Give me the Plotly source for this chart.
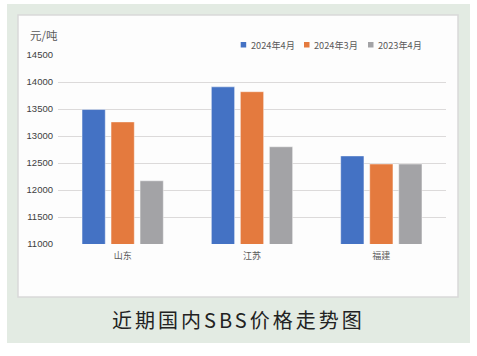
import plotly.graph_objects as go

categories = ["山东", "江苏", "福建"]
series_names = ["2024年4月", "2024年3月", "2023年4月"]
apr_2024 = [13490, 13910, 12630]
mar_2024 = [13260, 13820, 12480]
apr_2023 = [12170, 12800, 12480]
series_values = [apr_2024, mar_2024, apr_2023]
colors = ["#4472c4", "#e47a3e", "#a3a3a6"]
y_ticks = [11000, 11500, 12000, 12500, 13000, 13500, 14000, 14500]
y_unit = "元/吨"
chart_title = "近期国内SBS价格走势图"

W, H = 477, 356
L, R, T, B = 58, 31, 55, 112
PW, PH = W - L - R, H - T - B


def px(x):
    return (x - L) / PW


def py(y):
    return (H - B - y) / PH


fig = go.Figure()
for name, vals, col in zip(series_names, series_values, colors):
    fig.add_trace(go.Bar(
        x=categories, y=vals, name=name,
        marker=dict(color=col, line=dict(color="rgba(255,255,255,0.7)", width=0.6)),
        showlegend=False,
    ))

shapes = [
    dict(type="rect", xref="paper", yref="paper", x0=px(7), x1=px(470), y0=py(4), y1=py(343),
         fillcolor="#e3ebe3", line=dict(width=0), layer="below"),
    dict(type="rect", xref="paper", yref="paper", x0=px(18), x1=px(458), y0=py(15), y1=py(297),
         fillcolor="#fdfdfd", line=dict(color="#d9d9d9", width=1.5), layer="below"),
]
annotations = [
    dict(text=y_unit, xref="paper", yref="paper", x=px(28), y=py(35), xanchor="left", yanchor="middle",
         showarrow=False, font=dict(size=11.5, color="#595959", family="Noto Sans CJK SC")),
    dict(text='<span style="letter-spacing:3px">' + chart_title + '</span>', xref="paper", yref="paper",
         x=px(238), y=py(319), xanchor="center", yanchor="middle", showarrow=False,
         font=dict(size=20, color="#222222", family="Noto Sans CJK SC")),
]
legend_sq_x = [240.7, 304, 368]
for name, col, sx in zip(series_names, colors, legend_sq_x):
    shapes.append(dict(type="rect", xref="paper", yref="paper", x0=px(sx), x1=px(sx + 5.5),
                       y0=py(42), y1=py(47.5), fillcolor=col, line=dict(width=0)))
    annotations.append(dict(text=name, xref="paper", yref="paper", x=px(sx + 8), y=py(44.8),
                            xanchor="left", yanchor="middle", showarrow=False,
                            font=dict(size=9.2, color="#595959", family="Noto Sans CJK SC")))

fig.update_layout(
    width=W, height=H,
    margin=dict(l=L, r=R, t=T, b=B),
    paper_bgcolor="white", plot_bgcolor="rgba(0,0,0,0)",
    barmode="group", bargap=0.327, bargroupgap=0.2,
    shapes=shapes, annotations=annotations,
    xaxis=dict(tickfont=dict(size=9, color="#595959", family="Noto Sans CJK SC"),
               showgrid=False, showline=False, ticks="", ticklabelstandoff=5),
    yaxis=dict(range=[11000, 14500], tickvals=y_ticks, ticktext=[str(v) for v in y_ticks],
               tickfont=dict(size=9.5, color="#404040", family="Liberation Sans"),
               showgrid=True, gridcolor="#dcdada", gridwidth=1, zeroline=False,
               showline=False, ticks="", ticklabelstandoff=4),
    font=dict(family="Noto Sans CJK SC"),
)

fig.write_html("out.html", config={"displayModeBar": False},
               post_script="document.body.style.margin='0';document.body.style.overflow='hidden';")
